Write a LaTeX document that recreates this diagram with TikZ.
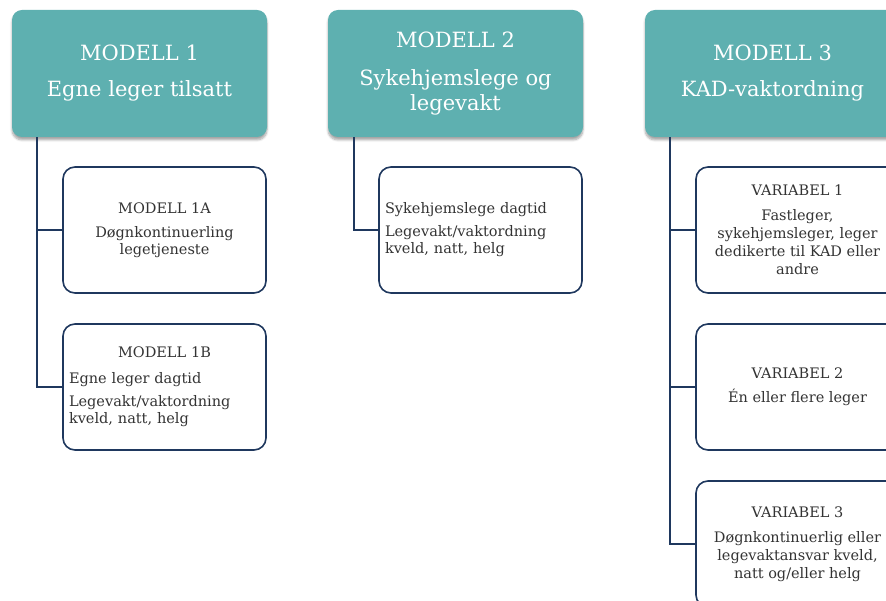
\documentclass[tikz,border=0pt]{standalone}
\usepackage{fontspec}
\setmainfont{DejaVu Serif}
\usetikzlibrary{positioning,shadows.blur}
\definecolor{tealhead}{RGB}{94,176,176}
\definecolor{navyline}{RGB}{31,56,94}
\definecolor{boxtext}{RGB}{51,51,51}

\begin{document}
\begin{tikzpicture}[x=1pt,y=-1pt,
    header/.style={fill=tealhead, rounded corners=10pt, minimum width=255pt, minimum height=127pt,
        text=white, align=center, font=\fontsize{21}{25}\selectfont,
        blur shadow={shadow xshift=0pt, shadow yshift=-3pt, shadow blur steps=6, shadow opacity=35}},
    subbox/.style={draw=navyline, line width=1.6pt, rounded corners=12pt, fill=white,
        minimum width=203pt, minimum height=126pt, text=boxtext, align=center,
        font=\fontsize{14.5}{18}\selectfont},
    listbox/.style={subbox, align=left, text width=191pt, inner xsep=6pt},
    link/.style={navyline, line width=1.6pt}]
    \useasboundingbox (0,0) rectangle (886,601);
    \clip (0,0) rectangle (886,601);

    % Headers
    \node[header] (m1) at (139.5,73.5) {MODELL 1\\[11pt]Egne leger tilsatt};
    \node[header] (m2) at (455.5,73.5) {MODELL 2\\[13pt]Sykehjemslege og\\legevakt};
    \node[header] (m3) at (772.5,73.5) {MODELL 3\\[11pt]KAD-vaktordning};

    % Modell 1
    \node[subbox] (m1a) at (164.5,230) {MODELL 1A\\[6pt]Døgnkontinuerling\\[-1pt]legetjeneste};
    \node[listbox] (m1b) at (164.5,387) {{\centering MODELL 1B\par}\vspace{8pt}
        Egne leger dagtid\par\vspace{5pt}
        Legevakt/vaktordning\\[-1pt]kveld, natt, helg};
    \draw[link] ([xshift=25pt]m1.south west) |- (m1a.west);
    \draw[link] ([xshift=25pt]m1.south west) |- (m1b.west);

    % Modell 2
    \node[listbox] (m2a) at (480.5,230) {Sykehjemslege dagtid\par\vspace{5pt}
        Legevakt/vaktordning\\[-1pt]kveld, natt, helg};
    \draw[link] ([xshift=26pt]m2.south west) |- (m2a.west);

    % Modell 3
    \node[subbox] (v1) at (797.5,230) {VARIABEL 1\\[7pt]Fastleger,\\sykehjemsleger, leger\\dedikerte til KAD eller\\andre};
    \node[subbox] (v2) at (797.5,387) {VARIABEL 2\\[6pt]Én eller flere leger};
    \node[subbox] (v3) at (797.5,544) {VARIABEL 3\\[7pt]Døgnkontinuerlig eller\\legevaktansvar kveld,\\natt og/eller helg};
    \foreach \v in {v1,v2,v3} {
        \draw[link] ([xshift=25pt]m3.south west) |- (\v.west);
    }
\end{tikzpicture}
\end{document}
